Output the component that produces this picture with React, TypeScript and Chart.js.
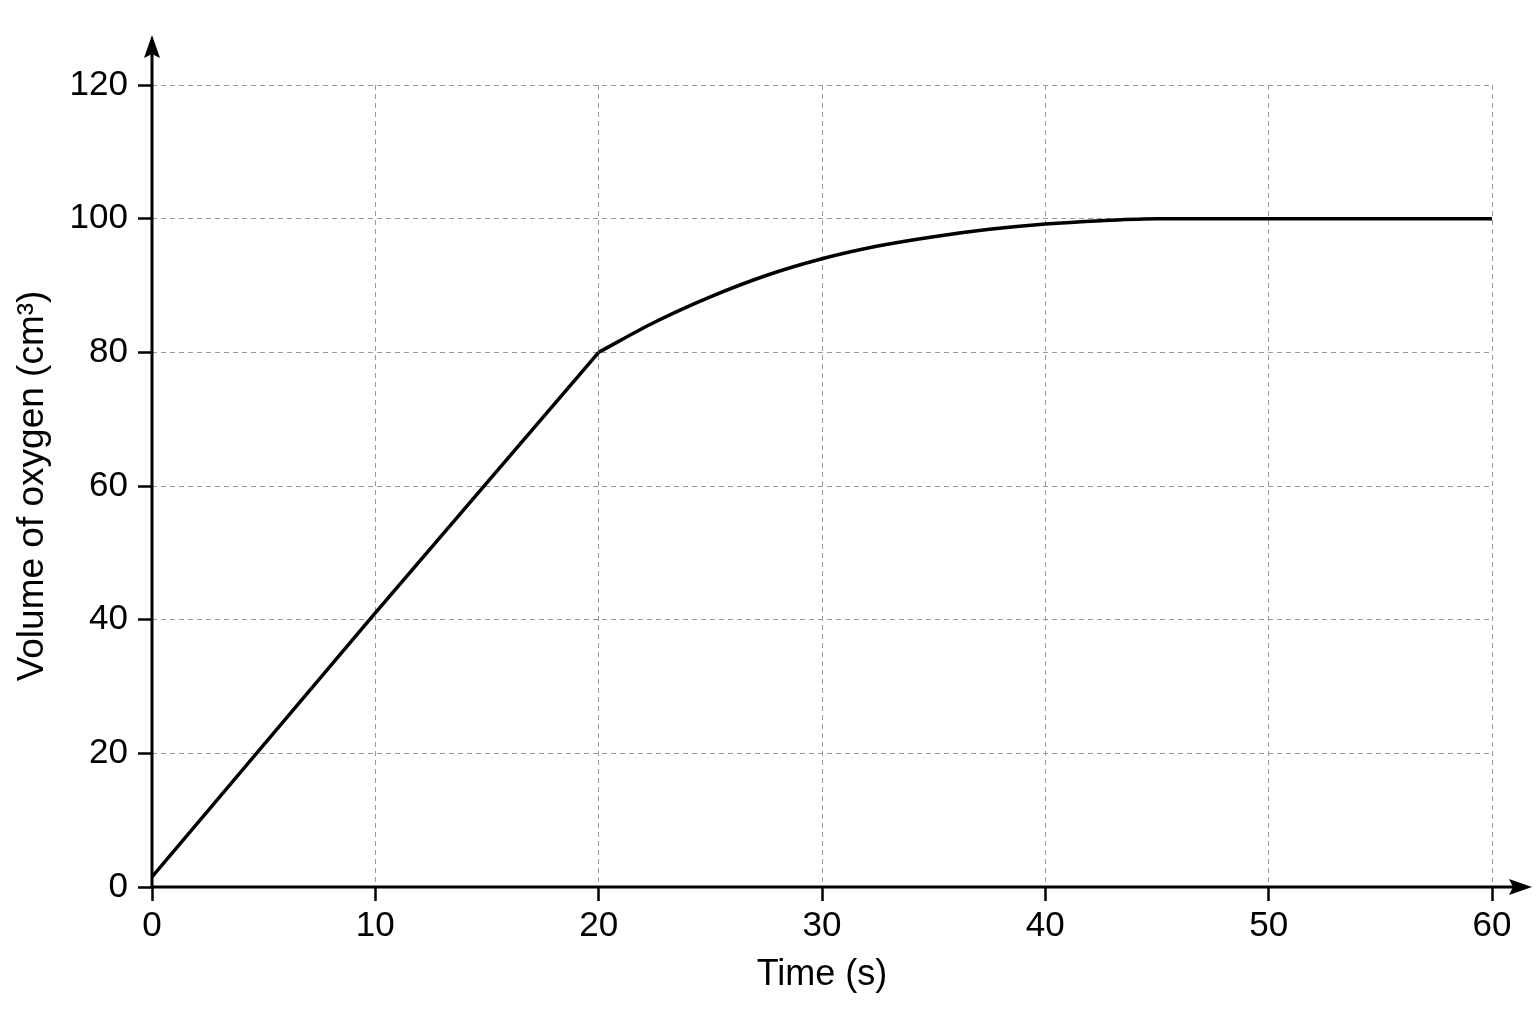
import React, { useEffect, useRef } from "react";
import { Chart, registerables } from "chart.js";

Chart.register(...registerables);

// Linear section (0–20 s)
const LINEAR_TIME = [0, 10, 20];
const LINEAR_VOLUME = [1.5, 41, 80];

// Curved section (20–60 s)
const CURVE_TIME = [20, 22.5, 25, 27.5, 30, 32.5, 35, 37.5, 40, 42.5, 45, 50, 60];
const CURVE_VOLUME = [80, 84.5, 88.3, 91.5, 94, 95.9, 97.3, 98.4, 99.2, 99.7, 100, 100, 100];

const X_MIN = 0;
const X_MAX = 60;
const X_STEP = 10;
const Y_MIN = 0;
const Y_MAX = 120;
const Y_STEP = 20;

const X_TITLE = "Time (s)";
const Y_TITLE = "Volume of oxygen (cm³)";

const FONT = "'Liberation Sans', Arial, sans-serif";

const axesPlugin = {
  id: "arrowAxes",
  afterDatasetsDraw(chart: any) {
    const { ctx, scales } = chart;
    const xs = scales.x;
    const ys = scales.y;
    const x0 = xs.getPixelForValue(X_MIN);
    const y0 = ys.getPixelForValue(Y_MIN);
    const xEnd = chart.width - 4;
    const yEnd = 35;
    ctx.save();
    ctx.strokeStyle = "#000";
    ctx.fillStyle = "#000";
    ctx.lineWidth = 3;
    // y axis
    ctx.beginPath();
    ctx.moveTo(x0, y0 + 1.5);
    ctx.lineTo(x0, yEnd + 12);
    ctx.stroke();
    ctx.beginPath();
    ctx.moveTo(x0, yEnd);
    ctx.lineTo(x0 - 8, yEnd + 23);
    ctx.lineTo(x0, yEnd + 19);
    ctx.lineTo(x0 + 8, yEnd + 23);
    ctx.closePath();
    ctx.fill();
    // x axis
    ctx.beginPath();
    ctx.moveTo(x0 - 1.5, y0);
    ctx.lineTo(xEnd - 12, y0);
    ctx.stroke();
    ctx.beginPath();
    ctx.moveTo(xEnd, y0);
    ctx.lineTo(xEnd - 23, y0 - 8);
    ctx.lineTo(xEnd - 19, y0);
    ctx.lineTo(xEnd - 23, y0 + 8);
    ctx.closePath();
    ctx.fill();
    ctx.restore();
  },
};

export default function App() {
  const ref = useRef<HTMLCanvasElement>(null);
  useEffect(() => {
    document.body.style.margin = "0";
    const linear = LINEAR_TIME.map((t, i) => ({ x: t, y: LINEAR_VOLUME[i] }));
    const curve = CURVE_TIME.map((t, i) => ({ x: t, y: CURVE_VOLUME[i] }));
    const chart = new Chart(ref.current!, {
      type: "scatter",
      data: {
        datasets: [
          {
            data: linear,
            showLine: true,
            borderColor: "#000",
            borderWidth: 3.5,
            pointRadius: 0,
            tension: 0,
          },
          {
            data: curve,
            showLine: true,
            borderColor: "#000",
            borderWidth: 3.5,
            pointRadius: 0,
            cubicInterpolationMode: "monotone",
          },
        ],
      },
      options: {
        animation: false,
        responsive: false,
        devicePixelRatio: 1,
        layout: { padding: { top: 85, right: 44, left: 0, bottom: 0 } },
        plugins: { legend: { display: false }, tooltip: { enabled: false } },
        scales: {
          x: {
            type: "linear",
            min: X_MIN,
            max: X_MAX,
            afterFit(scale: any) {
              scale.height = 137;
            },
            ticks: {
              stepSize: X_STEP,
              color: "#000",
              padding: 4,
              font: { family: FONT, size: 35 },
            },
            grid: {
              color: "#9a9a9a",
              lineWidth: 1,
              tickLength: 14,
              tickColor: "#000",
              tickWidth: 2.5,
            },
            border: { display: false, dash: [5, 4] },
            title: {
              display: true,
              text: X_TITLE,
              color: "#000",
              font: { family: FONT, size: 36 },
              padding: { top: 0, bottom: 27 },
            },
          },
          y: {
            type: "linear",
            min: Y_MIN,
            max: Y_MAX,
            afterFit(scale: any) {
              scale.width = 152;
            },
            ticks: {
              stepSize: Y_STEP,
              color: "#000",
              padding: 10,
              font: { family: FONT, size: 35 },
            },
            grid: {
              color: "#9a9a9a",
              lineWidth: 1,
              tickLength: 14,
              tickColor: "#000",
              tickWidth: 2.5,
            },
            border: { display: false, dash: [5, 4] },
            title: {
              display: true,
              text: Y_TITLE,
              color: "#000",
              font: { family: FONT, size: 37 },
              padding: { top: 11, bottom: 0 },
            },
          },
        },
      },
      plugins: [axesPlugin],
    });
    return () => chart.destroy();
  }, []);
  return (
    <div style={{ position: "absolute", left: 0, top: 0, width: 1536, height: 1024, background: "#fff" }}>
      <canvas ref={ref} width={1536} height={1024} style={{ width: 1536, height: 1024 }} />
    </div>
  );
}
